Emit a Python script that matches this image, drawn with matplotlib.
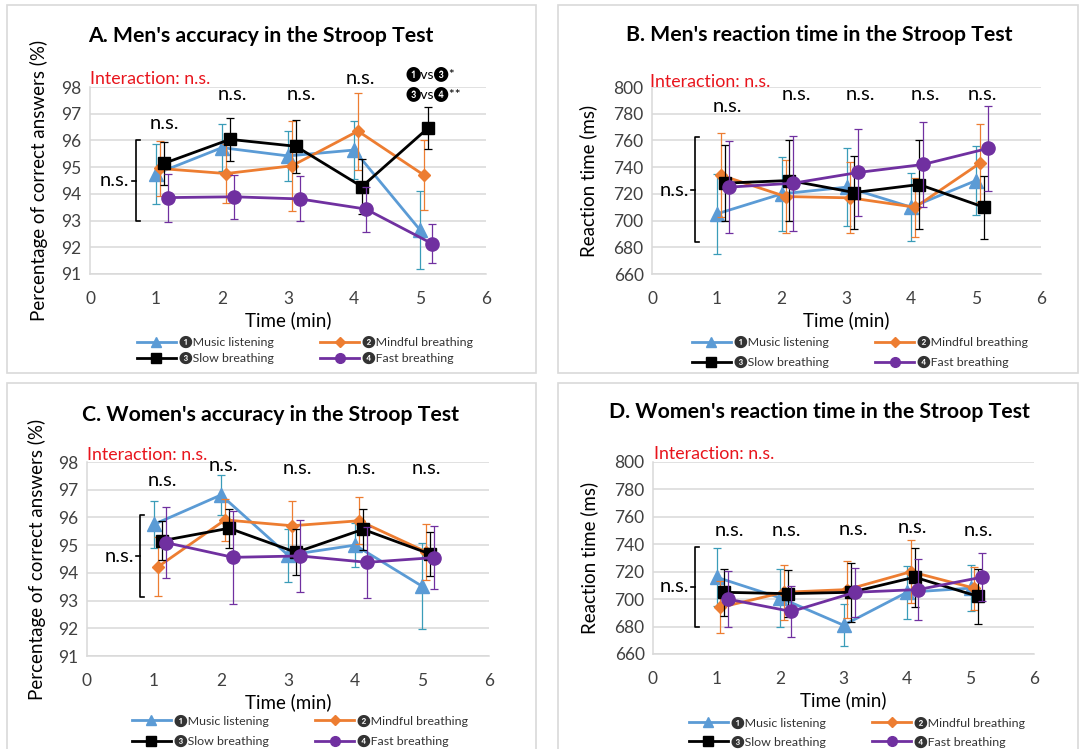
import matplotlib
matplotlib.use('Agg')
import matplotlib.pyplot as plt
from matplotlib.patches import Rectangle
from matplotlib.lines import Line2D

plt.rcParams['font.family'] = ['Lato', 'DejaVu Sans']

# ---- data ----
times = [1, 2, 3, 4, 5]
series_names = ['❶Music listening', '❷Mindful breathing', '❸Slow breathing', '❹Fast breathing']

# A. men's accuracy (%)
men_acc_music = [94.75, 95.73, 95.42, 95.64, 92.65]
men_acc_music_err = [1.12, 0.88, 0.92, 1.08, 1.45]
men_acc_mindful = [94.95, 94.76, 95.05, 96.35, 94.70]
men_acc_mindful_err = [1.02, 1.10, 1.69, 1.44, 1.30]
men_acc_slow = [95.14, 96.04, 95.78, 94.27, 96.46]
men_acc_slow_err = [0.79, 0.81, 1.00, 1.02, 0.78]
men_acc_fast = [93.86, 93.89, 93.81, 93.43, 92.14]
men_acc_fast_err = [0.90, 0.83, 0.84, 0.84, 0.72]

# B. men's reaction time (ms)
men_rt_music = [705, 720, 725, 710, 730]
men_rt_music_err = [29.7, 27.7, 29.0, 25.6, 26.0]
men_rt_mindful = [734, 718, 717, 710, 743]
men_rt_mindful_err = [31.5, 27.0, 26.5, 22.0, 29.0]
men_rt_slow = [728, 730, 721, 727, 710]
men_rt_slow_err = [28.4, 30.0, 27.0, 33.0, 23.6]
men_rt_fast = [725, 728, 736, 742, 754]
men_rt_fast_err = [34.6, 35.5, 32.5, 31.5, 31.8]

# C. women's accuracy (%)
women_acc_music = [95.75, 96.81, 94.64, 95.00, 93.52]
women_acc_music_err = [0.84, 0.72, 0.96, 0.80, 1.56]
women_acc_mindful = [94.22, 95.91, 95.70, 95.88, 94.76]
women_acc_mindful_err = [1.06, 0.75, 0.89, 0.84, 1.00]
women_acc_slow = [95.16, 95.61, 94.74, 95.57, 94.68]
women_acc_slow_err = [0.70, 0.70, 0.83, 0.75, 0.80]
women_acc_fast = [95.09, 94.56, 94.61, 94.38, 94.55]
women_acc_fast_err = [1.27, 1.67, 1.30, 1.27, 1.15]

# D. women's reaction time (ms)
women_rt_music = [716, 701, 681, 705, 708]
women_rt_music_err = [21.0, 21.2, 15.5, 19.3, 17.0]
women_rt_mindful = [694, 705, 707, 720, 708]
women_rt_mindful_err = [19.0, 20.0, 21.0, 23.0, 15.7]
women_rt_slow = [705, 704, 705, 716, 702]
women_rt_slow_err = [17.0, 17.0, 21.5, 21.5, 20.0]
women_rt_fast = [700, 691, 705, 707, 716]
women_rt_fast_err = [20.5, 18.3, 18.0, 22.0, 17.7]

# ---- styles ----
colors = ['#5B9BD5', '#ED7D31', 'black', '#7030A0']
err_colors = ['#3A9CB8', '#ED7D31', 'black', '#7030A0']
markers = ['^', 'D', 's', 'o']
msizes = [9.5, 6, 8, 9.5]
leg_msizes = [7, 5, 6.5, 7]
offsets = [0.0, 0.06, 0.12, 0.18]
grid_c = '#d9d9d9'
tick_c = '#404040'

W, H = 1081, 749
fig = plt.figure(figsize=(W / 100, H / 100), dpi=100)

# light panel frames
for (x0, y0, x1, y1) in [(7, 5, 536, 373), (558, 5, 1078, 373),
                         (7, 383, 536, 760), (558, 383, 1078, 760)]:
    fig.patches.append(Rectangle((x0 / W, 1 - y1 / H), (x1 - x0) / W, (y1 - y0) / H,
                                 transform=fig.transFigure, fill=False,
                                 edgecolor=grid_c, lw=1.2))


def px_rect(l, r, t, b):
    return [l / W, 1 - b / H, (r - l) / W, (b - t) / H]


def draw_panel(rect, title, title_px, ylabel, ylim, ystep, means, errs,
               ns_pos, bracket, inter_pos, legend_px, labelspacing, ylabelpad):
    ax = fig.add_axes(rect)
    for i in range(4):
        xs = [t + offsets[i] for t in times]
        ax.errorbar(xs, means[i], yerr=errs[i], color=colors[i], ecolor=err_colors[i],
                    elinewidth=0.9, capsize=3, capthick=0.9, lw=2, marker=markers[i],
                    ms=msizes[i], zorder=3 + i)
    ax.set_xlim(0, 6)
    ax.set_ylim(*ylim)
    ax.set_xticks(range(0, 7))
    ax.set_yticks(list(range(ylim[0], ylim[1] + 1, ystep)))
    ax.yaxis.grid(True, color=grid_c, lw=1.1)
    ax.set_axisbelow(True)
    for s in ['top', 'right']:
        ax.spines[s].set_visible(False)
    for s in ['left', 'bottom']:
        ax.spines[s].set_color(grid_c)
        ax.spines[s].set_linewidth(1.1)
    ax.tick_params(length=0, labelsize=12.5, colors=tick_c, pad=6)
    ax.tick_params(axis='x', pad=12)
    ax.set_xlabel('Time (min)', fontsize=13.5, labelpad=3)
    ax.set_ylabel(ylabel, fontsize=13.5, labelpad=ylabelpad)

    fig.text(title_px[0] / W, 1 - title_px[1] / H, title, fontsize=15.3,
             fontweight='bold', ha='center', va='center')

    ax.text(inter_pos[0], inter_pos[1], 'Interaction: n.s.', color='#E8141C',
            fontsize=12.8, ha='left', va='center', clip_on=False)
    for (x, y, s, fs) in ns_pos:
        ax.text(x, y, s, fontsize=fs, ha='center', va='center', clip_on=False)

    bx, btop, bbot, bmid = bracket
    ax.plot([bx + 0.06, bx, bx, bx + 0.06], [btop, btop, bbot, bbot],
            color='black', lw=1.2, clip_on=False)
    ax.plot([bx, bx - 0.06], [bmid, bmid], color='black', lw=1.2, clip_on=False)
    ax.text(bx - 0.09, bmid, 'n.s.', fontsize=14.5, ha='right', va='center')

    handles = [Line2D([], [], color=colors[i], lw=2, marker=markers[i], ms=leg_msizes[i])
               for i in range(4)]
    order = [0, 2, 1, 3]
    leg = fig.legend([handles[k] for k in order], [series_names[k] for k in order], ncol=2,
                     loc='center', bbox_to_anchor=(legend_px[0] / W, 1 - legend_px[1] / H),
                     frameon=False, fontsize=8.9, handlelength=3.2, columnspacing=3.7,
                     labelspacing=labelspacing, handletextpad=0.25, borderpad=0)
    for t in leg.get_texts():
        t.set_color('#333333')
    return ax


draw_panel(px_rect(90, 486, 87, 274), "A. Men's accuracy in the Stroop Test", (261, 36),
           'Percentage of correct answers (%)', (91, 98), 1,
           [men_acc_music, men_acc_mindful, men_acc_slow, men_acc_fast],
           [men_acc_music_err, men_acc_mindful_err, men_acc_slow_err, men_acc_fast_err],
           [(1.12, 96.65, 'n.s.', 14.5), (2.16, 97.71, 'n.s.', 14.5), (3.21, 97.71, 'n.s.', 14.5),
            (4.1, 98.3, 'n.s.', 14.5), (5.15, 98.5, '❶vs❸*', 10), (5.2, 97.75, '❸vs❹**', 10)],
           (0.69, 96.0, 93.0, 94.5), (0.0, 98.3), (305, 350), 0.3, 10)

draw_panel(px_rect(652, 1041, 87, 274), "B. Men's reaction time in the Stroop Test", (819, 35),
           'Reaction time (ms)', (660, 800), 20,
           [men_rt_music, men_rt_mindful, men_rt_slow, men_rt_fast],
           [men_rt_music_err, men_rt_mindful_err, men_rt_slow_err, men_rt_fast_err],
           [(1.16, 785.6, 'n.s.', 14.5), (2.23, 794.3, 'n.s.', 14.5), (3.22, 794.3, 'n.s.', 14.5),
            (4.22, 794.3, 'n.s.', 14.5), (5.1, 794.3, 'n.s.', 14.5)],
           (0.66, 762.4, 683.7, 722.8), (-0.03, 804), (860, 352), 0.62, 12)

draw_panel(px_rect(87, 489, 462, 656), "C. Women's accuracy in the Stroop Test", (270, 415),
           'Percentage of correct answers (%)', (91, 98), 1,
           [women_acc_music, women_acc_mindful, women_acc_slow, women_acc_fast],
           [women_acc_music_err, women_acc_mindful_err, women_acc_slow_err, women_acc_fast_err],
           [(1.12, 97.34, 'n.s.', 14.5), (2.04, 97.86, 'n.s.', 14.5), (3.14, 97.76, 'n.s.', 14.5),
            (4.09, 97.76, 'n.s.', 14.5), (5.06, 97.78, 'n.s.', 14.5)],
           (0.79, 96.07, 93.13, 94.6), (0.0, 98.24), (300, 731), 0.67, 9)

draw_panel(px_rect(653, 1034, 462, 654), "D. Women's reaction time in the Stroop Test", (819, 412),
           'Reaction time (ms)', (660, 800), 20,
           [women_rt_music, women_rt_mindful, women_rt_slow, women_rt_fast],
           [women_rt_music_err, women_rt_mindful_err, women_rt_slow_err, women_rt_fast_err],
           [(1.21, 750.3, 'n.s.', 14.5), (2.1, 750.3, 'n.s.', 14.5), (3.16, 751, 'n.s.', 14.5),
            (4.09, 752.3, 'n.s.', 14.5), (5.13, 750.3, 'n.s.', 14.5)],
           (0.66, 738.2, 679.4, 709.2), (0.02, 806), (857, 732), 0.55, 12)

fig.savefig('out.png', dpi=100)
